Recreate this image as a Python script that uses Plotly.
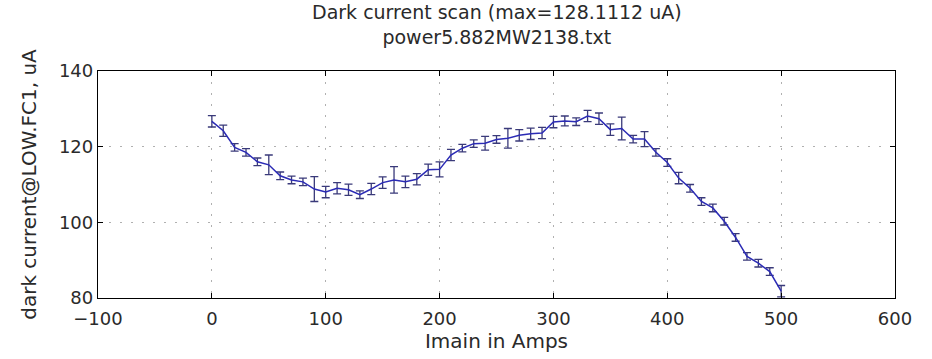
import plotly.graph_objects as go

current_amps = list(range(0, 510, 10))
dark_current = [126.7, 124.2, 119.8, 118.5, 116.0, 115.2, 112.3, 111.2, 110.7, 108.8,
                108.0, 109.0, 108.6, 107.3, 108.8, 110.5, 111.2, 110.7, 111.4, 113.9,
                114.0, 117.8, 119.6, 120.8, 120.9, 121.9, 122.2, 123.0, 123.4, 123.6,
                126.5, 126.8, 126.6, 128.1, 127.4, 124.5, 124.8, 122.0, 122.0, 118.5,
                115.8, 111.7, 109.0, 105.5, 103.8, 100.3, 96.0, 91.0, 89.2, 87.0,
                81.8]
dark_error = [1.5, 1.5, 1.0, 1.0, 1.0, 2.6, 1.0, 1.0, 1.0, 3.3,
              1.5, 1.5, 1.5, 1.0, 1.5, 1.5, 3.5, 1.5, 1.5, 1.5,
              2.0, 1.5, 1.0, 1.0, 1.8, 1.0, 2.6, 1.5, 1.5, 1.5,
              1.5, 1.3, 1.0, 1.5, 1.5, 1.5, 3.0, 1.0, 2.0, 1.0,
              1.0, 1.5, 1.0, 1.0, 1.0, 1.0, 1.0, 1.0, 1.0, 1.0,
              1.5]
x_ticks = [-100, 0, 100, 200, 300, 400, 500, 600]
y_ticks = [80, 100, 120, 140]
title_lines = ["Dark current scan (max=128.1112 uA)", "power5.882MW2138.txt"]

FONT = "DejaVu Sans"
TXT = "#2a2a2a"

fig = go.Figure()
fig.add_trace(go.Scatter(
    x=current_amps, y=dark_current, mode="lines",
    line=dict(color="#2b2bb5", width=1.5),
    error_y=dict(type="data", array=dark_error, visible=True,
                 color="#3a3a7a", thickness=1.3, width=4),
    showlegend=False,
))

axis_common = dict(
    showline=True, linecolor="black", linewidth=1.3, mirror="ticks",
    ticks="inside", ticklen=5, tickcolor="black", tickwidth=1,
    showgrid=True, gridcolor="#b0b0b0", griddash="2px,9px", gridwidth=1,
    zeroline=False, tickfont=dict(family=FONT, size=18, color=TXT),
)

fig.update_xaxes(range=[-100, 600], tickvals=x_ticks, ticklabelstandoff=4,
                 title=dict(text="Imain in Amps", font=dict(family=FONT, size=20, color=TXT), standoff=4),
                 **axis_common)
fig.update_yaxes(range=[80, 140], tickvals=y_ticks,
                 title=dict(text="dark current@LOW.FC1, uA", font=dict(family=FONT, size=20, color=TXT), standoff=16),
                 **axis_common)

fig.add_annotation(
    text="<br>".join(title_lines),
    xref="paper", yref="paper", x=0.5, y=1 + 72 / 227, xanchor="center", yanchor="top",
    showarrow=False, font=dict(family=FONT, size=19, color=TXT),
)

fig.update_layout(
    width=932, height=359,
    margin=dict(l=98, r=37, t=71, b=61),
    paper_bgcolor="white", plot_bgcolor="white",
)

fig.write_html("out.html")
